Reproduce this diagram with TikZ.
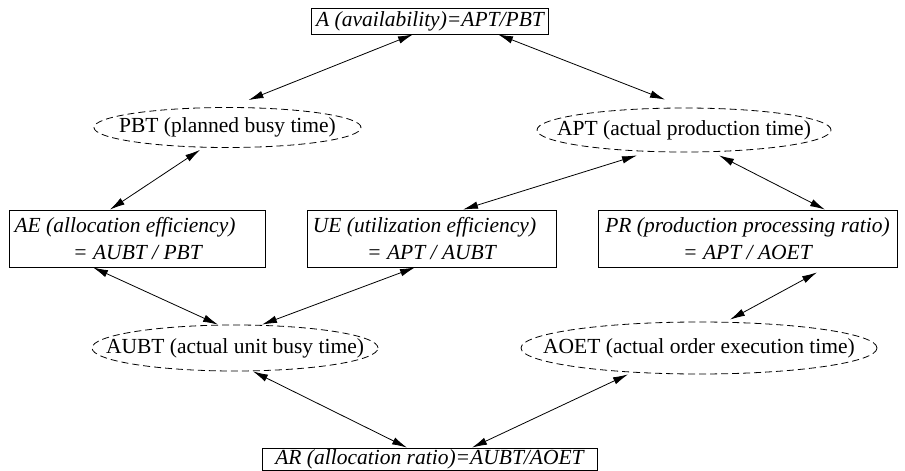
\documentclass[tikz,border=0pt]{standalone}
\usepackage{fontspec}
\setmainfont{Liberation Serif}
\usetikzlibrary{shapes.geometric, arrows.meta}

\begin{document}
\begin{tikzpicture}[
        x=1pt, y=-1pt,
        font=\fontsize{21.5}{27}\selectfont,
        line/.style={{Latex[length=15pt,width=7.5pt]}-{Latex[length=15pt,width=7.5pt]}, line width=0.8pt},
        box/.style={draw, line width=0.8pt, align=center, inner xsep=5pt, inner ysep=1pt,
                    font=\fontsize{21.5}{27}\selectfont\itshape},
        oval/.style={draw, ellipse, inner xsep=-60pt, inner ysep=0pt, line width=0.8pt,
                     dash pattern=on 7pt off 4pt}
    ]
    \useasboundingbox (0,0) rectangle (905,471);

    \node[box, minimum width=234pt, minimum height=26pt] (a) at (430,21) {A (availability)=APT/PBT};
    \node[oval, minimum width=267pt, minimum height=40pt] (pbt) at (227.5,127.5) {PBT (planned busy time)};
    \node[oval, minimum width=294pt, minimum height=44pt] (apt) at (684,130) {APT (actual production time)};
    \node[box, minimum width=255pt, minimum height=57pt] (ae) at (137.5,238.5) {AE (allocation efficiency)\hspace*{25pt}\\= AUBT / PBT};
    \node[box, minimum width=249pt, minimum height=57pt] (ue) at (431.5,238.5) {UE (utilization efficiency)\hspace*{14pt}\\= APT / AUBT};
    \node[box, minimum width=299pt, minimum height=57pt] (pr) at (747.5,238.5) {PR (production processing ratio)\\= APT / AOET};
    \node[oval, minimum width=286pt, minimum height=46pt] (aubt) at (235,348) {AUBT (actual unit busy time)};
    \node[oval, minimum width=356pt, minimum height=52pt] (aoet) at (699,348) {AOET (actual order execution time)};
    \node[box, minimum width=335pt, minimum height=22pt] (ar) at (429.5,459) {AR (allocation ratio)=AUBT/AOET};

    \draw[line] ([xshift=21pt, yshift=7pt]pbt.north) -- ([xshift=-17pt]a.south);
    \draw[line] ([xshift=68pt]a.south) -- ([xshift=-19pt, yshift=8pt]apt.north);
    \draw[line] ([xshift=-27.5pt]ae.north) -- ([xshift=-27.5pt, yshift=-2pt]pbt.south);
    \draw[line] ([xshift=31.5pt]ue.north) -- ([xshift=-47pt, yshift=-3pt]apt.south);
    \draw[line] ([xshift=35pt, yshift=-3pt]apt.south) -- ([xshift=77.5pt]pr.north);
    \draw[line] ([xshift=-44.5pt]ae.south) -- ([xshift=-17pt]aubt.north);
    \draw[line] ([xshift=-16.5pt]ue.south) -- ([xshift=27pt]aubt.north);
    \draw[line] ([xshift=69.5pt, yshift=-5pt]pr.south) -- ([xshift=31pt, yshift=2pt]aoet.north);
    \draw[line] ([xshift=18pt]aubt.south) -- ([xshift=-22.5pt]ar.north);
    \draw[line] ([xshift=-71pt]aoet.south) -- ([xshift=42.5pt]ar.north);

\end{tikzpicture}
\end{document}
